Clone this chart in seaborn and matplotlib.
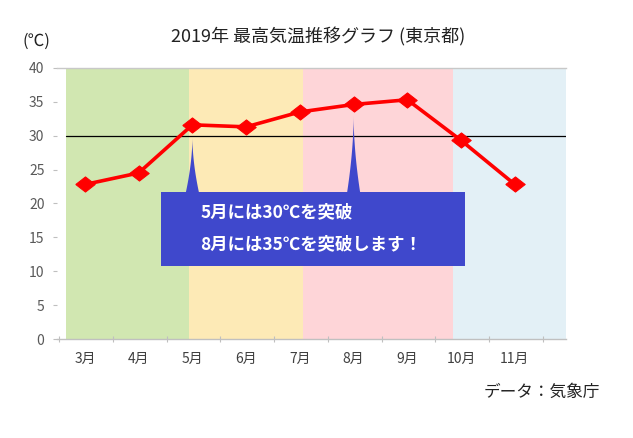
import numpy as np
import pandas as pd
import matplotlib
matplotlib.use("Agg")
import matplotlib.pyplot as plt
from matplotlib.patches import Rectangle, Polygon
import seaborn as sns

# ---- data ----
months = ["3月", "4月", "5月", "6月", "7月", "8月", "9月", "10月", "11月"]
max_temp = [22.8, 24.5, 31.6, 31.3, 33.5, 34.6, 35.3, 29.3, 22.8]
yticks = [0, 5, 10, 15, 20, 25, 30, 35, 40]
threshold = 30
title = "2019年 最高気温推移グラフ (東京都)"
unit_label = "(℃)"
source = "データ：気象庁"
callout_lines = ["5月には30℃を突破", "8月には35℃を突破します！"]
callout_months = ["5月", "8月"]
season_colors = ["#D1E7B1", "#FDEAB6", "#FED5D8", "#E3F0F6"]

sns.set_theme(style="white")
plt.rcParams['font.family'] = ['Noto Sans CJK JP', 'DejaVu Sans']

df = pd.DataFrame({"idx": np.arange(len(months)), "month": months, "temp": max_temp})

fig = plt.figure(figsize=(6.33, 4.38), dpi=100)
ax = fig.add_axes([0.090, 0.226, 0.804, 0.619])

xmin, xmax = -0.52, 8.95
ax.set_xlim(xmin, xmax)
ax.set_ylim(0, 40)

# season background bands
edges = [-0.35, months.index("5月") - 0.11, months.index("7月") + 0.05,
         months.index("10月") - 0.15, xmax]
edges[1] += 0.04
for i, c in enumerate(season_colors):
    ax.add_patch(Rectangle((edges[i], 0), edges[i + 1] - edges[i], 40,
                           facecolor=c, edgecolor="none", zorder=0))

# threshold line
ax.plot([-0.35, xmax], [threshold, threshold], color="black", lw=0.9, zorder=2)

# main line
diamond = [(-1, 0), (0, 0.78), (1, 0), (0, -0.78), (-1, 0)]
sns.lineplot(data=df, x="idx", y="temp", ax=ax, color="#FF0000", linewidth=2.6,
             marker=diamond, markersize=14, markeredgecolor="#FF0000",
             markerfacecolor="#FF0000", zorder=3)

# callout box + spikes
box_color = "#3F48CC"
bx0, bx1, by0, by1 = 1.41, 7.07, 10.8, 21.7
ax.add_patch(Rectangle((bx0, by0), bx1 - bx0, by1 - by0, facecolor=box_color,
                       edgecolor="none", zorder=4))
spike_tips = [29.7, 32.9]
for m, tip in zip(callout_months, spike_tips):
    xc = months.index(m)
    t = np.linspace(0, 1, 30)
    hw = 0.12 * (1 - t) ** 1.8
    ys = by1 + (tip - by1) * t
    pts = list(zip(xc - hw, ys)) + list(zip((xc + hw)[::-1], ys[::-1]))
    pts = [(xc - 0.12, by1 - 0.5)] + pts + [(xc + 0.12, by1 - 0.5)]
    ax.add_patch(Polygon(pts, closed=True, facecolor=box_color, edgecolor="none", zorder=4))

ax.text(2.15, 18.7, callout_lines[0], color="white", fontsize=12.5, fontweight="bold",
        va="center", ha="left", zorder=5)
ax.text(2.15, 14.0, callout_lines[1], color="white", fontsize=12.5, fontweight="bold",
        va="center", ha="left", zorder=5)

# axes styling
for s in ["left", "right"]:
    ax.spines[s].set_visible(False)
ax.spines["top"].set_color("#C8C8C8")
ax.spines["top"].set_linewidth(1.0)
ax.spines["bottom"].set_color("#C0C0C0")
ax.spines["bottom"].set_linewidth(1.0)

ax.set_yticks(yticks)
ax.set_yticklabels([str(v) for v in yticks], fontsize=10, color="#595959")
ax.tick_params(axis="y", left=True, length=3, width=0.8, color="#BFBFBF", pad=6)

ax.set_xticks(np.arange(len(months) + 1) - 0.48)
ax.set_xticklabels([])
ax.set_xticks(np.arange(len(months)), minor=True)
ax.set_xticklabels(months, minor=True, fontsize=10, color="#404040")
ax.tick_params(axis="x", which="major", bottom=True, length=5, width=0.8,
               color="#BFBFBF", direction="inout")
ax.tick_params(axis="x", which="minor", bottom=False, length=0, pad=9)
ax.set_xlabel("")
ax.set_ylabel("")
ax.grid(False)

fig.text(0.502, 0.915, title, ha="center", va="center", fontsize=13, color="#222222")
fig.text(0.058, 0.905, unit_label, ha="center", va="center", fontsize=12, color="#222222")
fig.text(0.948, 0.105, source, ha="right", va="center", fontsize=12, color="#222222")

fig.savefig("out.png", dpi=100, facecolor="white")
